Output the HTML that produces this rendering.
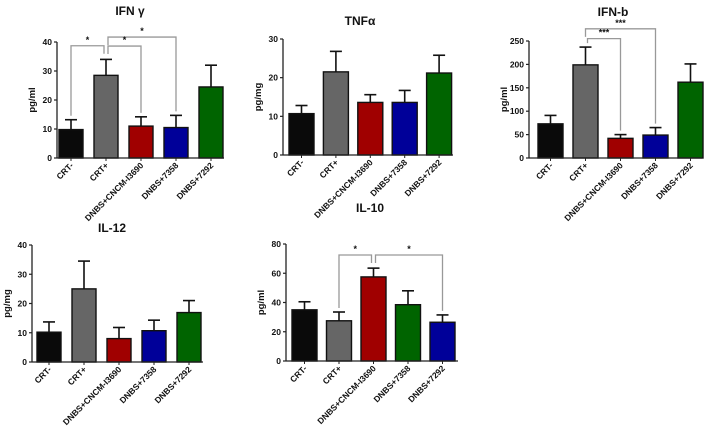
<!DOCTYPE html>
<html><head><meta charset="utf-8"><style>
html,body{margin:0;padding:0;background:#fff;}
svg{display:block;font-family:"Liberation Sans",sans-serif;font-weight:bold;}
</style></head><body>
<svg id="fig" width="709" height="434" viewBox="0 0 709 434" xmlns="http://www.w3.org/2000/svg"></svg>
<script>
const categoriesA = ["CRT-","CRT+","DNBS+CNCM-I3690","DNBS+7358","DNBS+7292"];
const colorsA = ["#0a0a0a","#666666","#a00000","#000099","#006400"];
const colorsB = ["#0a0a0a","#666666","#a00000","#006400","#000099"];
const ifngMeans = [9.8,28.5,11,10.5,24.5];
const ifngErr = [13.2,34,14.2,14.7,32];
const ifngTicks = [0,10,20,30,40];
const tnfMeans = [10.7,21.5,13.6,13.6,21.2];
const tnfErr = [12.8,26.8,15.6,16.7,25.8];
const tnfTicks = [0,10,20,30];
const ifnbMeans = [73,199,42,49,162];
const ifnbErr = [91,237,50,65,201];
const ifnbTicks = [0,50,100,150,200,250];
const il12Means = [10.2,25,8,10.7,16.9];
const il12Err = [13.7,34.5,11.8,14.3,21];
const il12Ticks = [0,10,20,30,40];
const il10Means = [35,27.5,57.5,38.5,26.5];
const il10Err = [40.5,33.5,63.5,48,31.5];
const il10Ticks = [0,20,40,60,80];
const ifngSig = [[0,1,38.7,"*"],[1,3,41.7,"*"],[1,2,38.6,"*"]];
const ifnbSig = [[1,3,276,"***"],[1,2,255,"***"]];
const il10Sig = [[1,2,72.5,"*"],[2,4,72.5,"*"]];

const NS="http://www.w3.org/2000/svg";
const svg=document.getElementById('fig');
function mk(tag,attrs,parent){const e=document.createElementNS(NS,tag);for(const k in attrs)e.setAttribute(k,attrs[k]);(parent||svg).appendChild(e);return e;}

function panel(o){
  const g=mk('g',{});
  
  
  const max=o.ticks[o.ticks.length-1];
  const y=v=>o.y0-(v/max)*(o.y0-o.yTop);
  const cx=i=>o.x0+o.start+o.pitch*i+o.bw/2;
  const t=mk('text',{x:o.tx,y:o.ty,'font-size':12,'text-anchor':'middle',fill:'#111'},g);
  t.textContent=o.title;
  
  
  const yl=mk('text',{x:0,y:0,'font-size':9.5,'text-anchor':'middle',fill:'#111',transform:`translate(${o.x0-22},${(o.y0+o.yTop)/2}) rotate(-90)`},g);
  yl.textContent=o.ylabel;
  
  
  o.means.forEach((m,i)=>{
    const c=cx(i);
    const eb=mk('line',{x1:c,x2:c,y1:y(m),y2:y(o.err[i]),stroke:'#111','stroke-width':1.6},g);
    
    
    mk('line',{x1:c-6,x2:c+6,y1:y(o.err[i]),y2:y(o.err[i]),stroke:'#111','stroke-width':1.6},g);
    const r=mk('rect',{x:c-o.bw/2,y:y(m),width:o.bw,height:o.y0-y(m),fill:o.colors[i],stroke:'#111','stroke-width':1.4},g);
    
    
    mk('line',{x1:c,x2:c,y1:o.y0,y2:o.y0+3,stroke:'#222','stroke-width':1},g);
    const lb=mk('text',{x:0,y:0,'font-size':8.5,'text-anchor':'end',fill:'#111',transform:`translate(${c+3},${o.y0+8}) rotate(-45)`},g);
    lb.textContent=o.cats[i];
    
    
  });
  const ya=mk('line',{x1:o.x0,x2:o.x0,y1:o.yTop,y2:o.y0,stroke:'#222','stroke-width':1.3},g);
  
  
  const xa=mk('line',{x1:o.x0,x2:o.xEnd,y1:o.y0,y2:o.y0,stroke:'#222','stroke-width':1.3},g);
  
  
  o.ticks.forEach(v=>{
    mk('line',{x1:o.x0-3,x2:o.x0,y1:y(v),y2:y(v),stroke:'#222','stroke-width':1.2},g);
    const tl=mk('text',{x:o.x0-5,y:y(v)+3,'font-size':8.5,'text-anchor':'end',fill:'#111'},g);
    tl.textContent=v;
    
    
  });
  (o.sig||[]).forEach((s,k)=>{
    const [a,b,lev,star]=s;
    const ly=y(lev);
    const xa1=cx(a)+(k>0&&a===o.hub?2:0);
    const xb=cx(b)+(b===o.hub?-2:0);
    const ya1=Math.max(ly+2,Math.min(y(o.err[a])-4,ly+(a===o.hub?8:200)));
    const yb=Math.max(ly+2,Math.min(y(o.err[b])-4,ly+(b===o.hub?8:200)));
    const p=mk('path',{d:`M${xa1},${ya1}V${ly}H${xb}V${yb}`,fill:'none',stroke:'#999','stroke-width':1.3},g);
    
    
    const st=mk('text',{x:(xa1+xb)/2,y:ly-3,'font-size':9,'text-anchor':'middle',fill:'#111'},g);
    st.textContent=star;
    
    
  });
}

panel({name:'ifn-gamma',title:'IFN γ',tx:130,ty:15,ylabel:'pg/ml',x0:57,xEnd:224,y0:158,yTop:42,start:2,pitch:35,bw:24,means:ifngMeans,err:ifngErr,ticks:ifngTicks,cats:categoriesA,colors:colorsA,sig:ifngSig,hub:1});
panel({name:'tnf-alpha',title:'TNFα',tx:360,ty:25,ylabel:'pg/mg',x0:283,xEnd:453,y0:155,yTop:39,start:6,pitch:34.4,bw:25,means:tnfMeans,err:tnfErr,ticks:tnfTicks,cats:categoriesA,colors:colorsA});
panel({name:'ifn-b',title:'IFN-b',tx:613,ty:16,ylabel:'pg/ml',x0:529,xEnd:702,y0:158,yTop:41,start:9,pitch:35,bw:25,means:ifnbMeans,err:ifnbErr,ticks:ifnbTicks,cats:categoriesA,colors:colorsA,sig:ifnbSig,hub:1});
panel({name:'il-12',title:'IL-12',tx:112,ty:232,ylabel:'pg/mg',x0:32,xEnd:203,y0:362,yTop:245,start:5,pitch:35,bw:24,means:il12Means,err:il12Err,ticks:il12Ticks,cats:categoriesA,colors:colorsA});
panel({name:'il-10',title:'IL-10',tx:370,ty:212,ylabel:'pg/ml',x0:286,xEnd:458,y0:361,yTop:244,start:6,pitch:34.5,bw:25,means:il10Means,err:il10Err,ticks:il10Ticks,cats:categoriesA,colors:colorsB,sig:il10Sig,hub:2});
</script>
</body></html>
